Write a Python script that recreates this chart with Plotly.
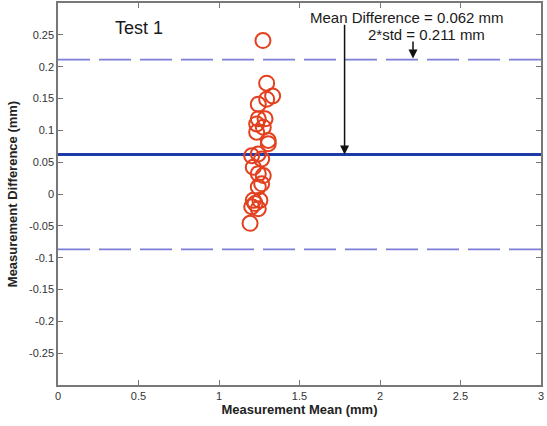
import plotly.graph_objects as go

# Bland-Altman data: measurement mean (mm) vs measurement difference (mm)
mean_mm = [1.273, 1.296, 1.333, 1.296, 1.244, 1.244, 1.286, 1.234, 1.275, 1.234,
           1.306, 1.306, 1.203, 1.244, 1.265, 1.213, 1.275, 1.244, 1.265, 1.244,
           1.213, 1.254, 1.203, 1.244, 1.224, 1.193]
diff_mm = [0.241, 0.174, 0.154, 0.149, 0.141, 0.118, 0.118, 0.110, 0.105, 0.097,
           0.084, 0.079, 0.060, 0.063, 0.055, 0.042, 0.029, 0.032, 0.016, 0.011,
           -0.010, -0.010, -0.020, -0.023, -0.015, -0.046]

mean_diff = 0.062
upper_limit = 0.211
lower_limit = -0.087
x_span = [0, 3]

y_ticks = [-0.25, -0.2, -0.15, -0.1, -0.05, 0, 0.05, 0.1, 0.15, 0.2, 0.25]
y_labels = ["-0.25", "-0.2", "-0.15", "-0.1", "-0.05", "0", "0.05", "0.1", "0.15", "0.2", "0.25"]
x_ticks = [0, 0.5, 1, 1.5, 2, 2.5, 3]
x_labels = ["0", "0.5", "1", "1.5", "2", "2.5", "3"]

fig = go.Figure()

# limits of agreement
for lim in (upper_limit, lower_limit):
    fig.add_trace(go.Scatter(
        x=x_span, y=[lim, lim], mode="lines",
        line=dict(color="#7e7ed8", width=1.6, dash="32px,9px"),
        hoverinfo="skip", showlegend=False))

# mean difference
fig.add_trace(go.Scatter(
    x=x_span, y=[mean_diff, mean_diff], mode="lines",
    line=dict(color="#1c3aa8", width=3),
    hoverinfo="skip", showlegend=False))

# individual measurements
fig.add_trace(go.Scatter(
    x=mean_mm, y=diff_mm, mode="markers",
    marker=dict(symbol="circle-open", size=15, color="#e2401e",
                line=dict(width=2, color="#e2401e")),
    showlegend=False))

font = "Liberation Sans, Arial, sans-serif"

fig.add_annotation(x=0.50, y=0.261, text="Test 1", showarrow=False,
                   font=dict(family=font, size=18, color="#1a1a1a"))
fig.add_annotation(x=2.17, y=0.277, text="Mean Difference = 0.062 mm", showarrow=False,
                   font=dict(family=font, size=15, color="#1a1a1a"))
fig.add_annotation(x=2.29, y=0.250, text="2*std = 0.211 mm", showarrow=False,
                   font=dict(family=font, size=15, color="#1a1a1a"))

# arrows pointing at the mean line and the upper limit
fig.add_annotation(x=1.78, y=mean_diff, ax=1.78, ay=0.268, xref="x", yref="y",
                   axref="x", ayref="y", showarrow=True, arrowhead=2,
                   arrowsize=1.2, arrowwidth=1.5, arrowcolor="#111", text="")
fig.add_annotation(x=2.205, y=upper_limit + 0.002, ax=2.205, ay=0.242, xref="x", yref="y",
                   axref="x", ayref="y", showarrow=True, arrowhead=2,
                   arrowsize=1.2, arrowwidth=1.5, arrowcolor="#111", text="")

axis_common = dict(showgrid=False, zeroline=False, showline=True, linecolor="#777",
                   linewidth=1.5, mirror="ticks", ticks="inside", ticklen=5,
                   tickcolor="#777", tickfont=dict(family=font, size=11, color="#333"))

fig.update_xaxes(range=x_span, tickvals=x_ticks, ticktext=x_labels,
                 title=dict(text="<b>Measurement Mean (mm)</b>", standoff=4,
                            font=dict(family=font, size=13, color="#222")),
                 **axis_common)
fig.update_yaxes(range=[-0.3, 0.3], tickvals=y_ticks, ticktext=y_labels,
                 title=dict(text="<b>Measurement Difference (mm)</b>", standoff=8,
                            font=dict(family=font, size=13, color="#222")),
                 **axis_common)

fig.update_layout(width=547, height=426, margin=dict(l=58, r=6, t=1, b=41),
                  plot_bgcolor="white", paper_bgcolor="white")

fig.write_html("out.html")
